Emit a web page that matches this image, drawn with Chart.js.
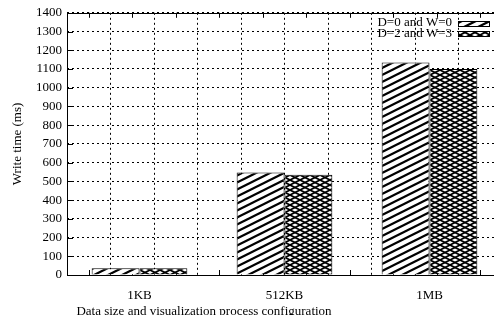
<!DOCTYPE html>
<html><head><meta charset="utf-8">
<script src="https://cdn.jsdelivr.net/npm/chart.js@4.4.0/dist/chart.umd.min.js"></script>
<style>
html,body{margin:0;padding:0;background:#fff;overflow:hidden;width:494px;height:315px;}
#wrap{position:relative;width:502px;height:320px;}
</style></head><body>
<div id="wrap"><canvas id="c" width="502" height="320"></canvas></div>
<script>
// ---- data ----
const categories = ['1KB', '512KB', '1MB'];
const seriesLabels = ['D=0 and W=0', 'D=2 and W=3'];
const seriesD0W0 = [36, 547, 1134];
const seriesD2W3 = [36, 535, 1100];
const yMin = 0, yMax = 1400, yStep = 100;
const yTitle = 'Write time (ms)';
const xTitle = 'Data size and visualization process configuration';

const FONT = "'Liberation Serif', 'Times New Roman', serif";

function makeTile(w, h, draw) {
  const c = document.createElement('canvas');
  c.width = w; c.height = h;
  const g = c.getContext('2d');
  g.fillStyle = '#fff'; g.fillRect(0, 0, w, h);
  g.strokeStyle = '#000';
  draw(g, w, h);
  return document.createElement('canvas').getContext('2d').createPattern(c, 'repeat');
}
const diagPattern = makeTile(14, 7, (g, w, h) => {
  g.lineWidth = 2.2;
  for (let n = -1; n <= 2; n++) {
    g.beginPath();
    g.moveTo(-2, h + 1 + n * h);
    g.lineTo(w + 2, h - (w + 2) / 2 + n * h);
    g.stroke();
  }
});
const crossPattern = makeTile(10, 5, (g, w, h) => {
  g.lineWidth = 1.7;
  for (let n = -1; n <= 2; n++) {
    g.beginPath();
    g.moveTo(-2, h + 1 + n * h);
    g.lineTo(w + 2, h - (w + 2) / 2 + n * h);
    g.stroke();
    g.beginPath();
    g.moveTo(-2, -1 + n * h);
    g.lineTo(w + 2, (w + 2) / 2 + n * h);
    g.stroke();
  }
});

const gridPositions = [];
for (let k = 0; k <= 9; k++) gridPositions.push(-0.5 + k / 3);

const framePlugin = {
  id: 'frame',
  beforeDatasetsDraw(chart) {
    const {ctx, chartArea: a, scales} = chart;
    ctx.save();
    ctx.strokeStyle = '#000';
    ctx.lineWidth = 1;
    ctx.beginPath();
    scales.y.ticks.forEach(t => {
      const y = Math.round(scales.y.getPixelForValue(t.value)) + 0.5;
      ctx.moveTo(a.left, y); ctx.lineTo(a.left + 6, y);
      ctx.moveTo(a.right, y); ctx.lineTo(a.right - 6, y);
    });
    scales.x2.ticks.forEach(t => {
      const x = Math.round(scales.x2.getPixelForValue(t.value)) + 0.5;
      ctx.moveTo(x, a.top); ctx.lineTo(x, a.top + 5);
      ctx.moveTo(x, a.bottom); ctx.lineTo(x, a.bottom - 5);
    });
    ctx.stroke();
    ctx.restore();
  },
  afterDatasetsDraw(chart) {
    const {ctx, chartArea: a} = chart;
    ctx.save();
    ctx.strokeStyle = '#000';
    ctx.lineWidth = 1;
    const l = Math.round(a.left) + 0.5, r = Math.round(a.right) - 0.5;
    const t = Math.round(a.top) + 0.5, b = Math.round(a.bottom) + 0.5;
    ctx.strokeRect(l, t, r - l, b - t);
    ctx.font = '13px ' + FONT;
    ctx.fillStyle = '#000';
    // x-axis title
    ctx.textAlign = 'center';
    ctx.textBaseline = 'alphabetic';
    ctx.fillText(xTitle, 204, 314.5);
    // legend (key) in top-right
    ctx.textAlign = 'right';
    ctx.textBaseline = 'middle';
    chart.data.datasets.forEach((ds, i) => {
      const cy = 23 + i * 10.5;
      ctx.fillText(ds.label, 452, cy);
      ctx.fillStyle = ds.backgroundColor;
      ctx.fillRect(458, Math.round(cy - 2.5), 31, 5);
      ctx.strokeRect(458.5, Math.round(cy - 2.5) + 0.5, 31, 5);
      ctx.fillStyle = '#000';
    });
    ctx.restore();
  }
};

new Chart(document.getElementById('c'), {
  type: 'bar',
  data: {
    labels: categories,
    datasets: [
      { label: seriesLabels[0], data: seriesD0W0, backgroundColor: diagPattern, borderColor: '#000', borderWidth: 1 },
      { label: seriesLabels[1], data: seriesD2W3, backgroundColor: crossPattern, borderColor: '#000', borderWidth: 1 }
    ]
  },
  options: {
    responsive: false,
    animation: false,
    devicePixelRatio: 1,
    layout: { padding: { top: 12, left: 0, right: 0, bottom: 0 } },
    plugins: { legend: { display: false }, tooltip: { enabled: false } },
    datasets: { bar: { categoryPercentage: 0.66, barPercentage: 1.0 } },
    scales: {
      x: {
        type: 'category',
        position: 'bottom',
        offset: true,
        grid: { display: false, drawTicks: false },
        border: { display: false },
        ticks: { color: '#000', font: { family: FONT, size: 13 }, padding: 13, maxRotation: 0 },
        title: { display: false, text: xTitle },
        afterFit(s) { s.height = 45; }
      },
      x2: {
        type: 'linear',
        position: 'bottom',
        min: -0.5, max: 2.5,
        afterBuildTicks(s) { s.ticks = gridPositions.map(v => ({ value: v })); },
        grid: { color: '#000', lineWidth: 1, drawTicks: false },
        border: { display: false, dash: [2, 3] },
        ticks: { display: false },
        afterFit(s) { s.height = 0; }
      },
      y: {
        min: yMin, max: yMax,
        ticks: { stepSize: yStep, color: '#000', font: { family: FONT, size: 13 }, padding: 5, callback: v => String(v) },
        grid: { color: '#000', lineWidth: 1, drawTicks: false },
        border: { display: false, dash: [2, 3] },
        title: { display: true, text: yTitle, color: '#000', font: { family: FONT, size: 13 }, padding: { top: 10, bottom: 0 } },
        afterFit(s) { s.width = 67; }
      }
    }
  },
  plugins: [framePlugin]
});
</script>
</body></html>
